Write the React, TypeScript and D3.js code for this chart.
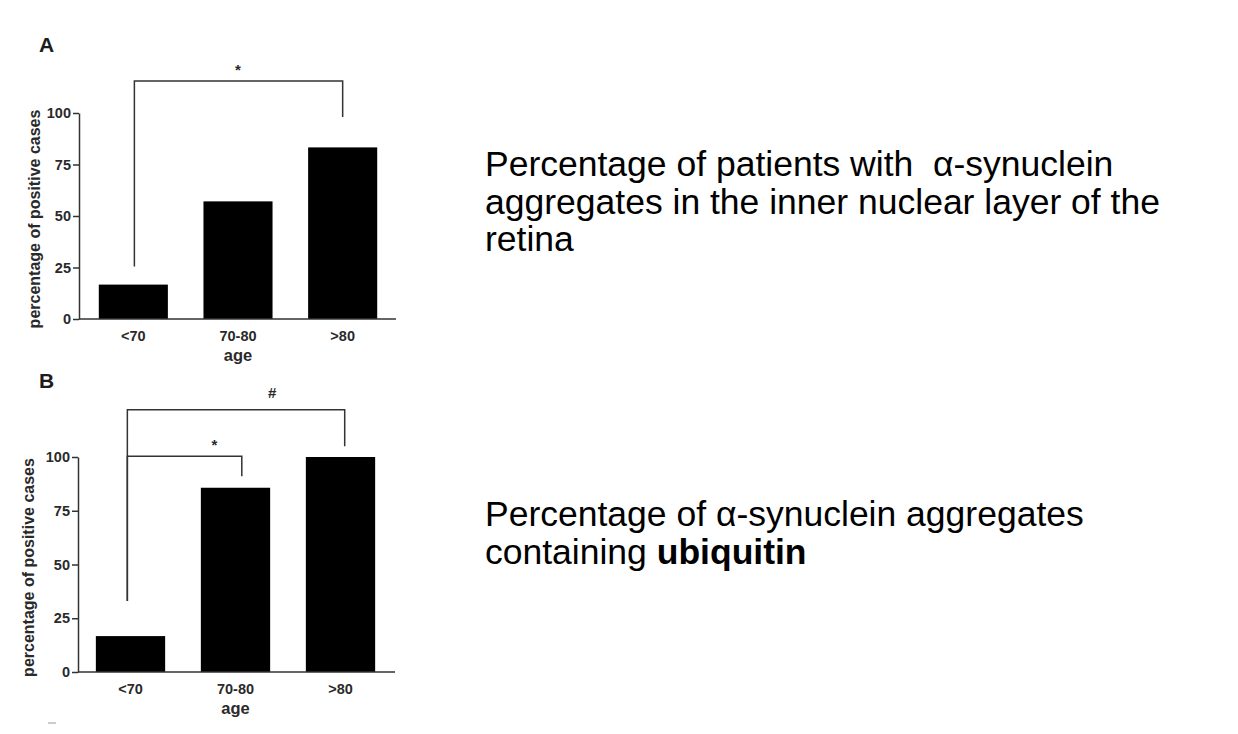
import React, { useEffect, useRef } from 'react';
import * as d3 from 'd3';

// age groups and percentage of positive cases per panel
const ageGroups = ['<70', '70-80', '>80'];
const innerLayerPositive = [16.7, 57.1, 83.3];
const ubiquitinPositive = [16.7, 85.7, 100];
const yTicks = [0, 25, 50, 75, 100];

// significance brackets: ends and label in category-index units, heights in %
const bracketsA = [
  { from: 0.01, to: 2.0, labelAt: 1.0, top: 115.5, leftEnd: 25.5, rightEnd: 98, label: '*' },
];
const bracketsB = [
  { from: -0.03, to: 2.04, labelAt: 1.35, top: 122, leftEnd: 33, rightEnd: 105, label: '#' },
  { from: -0.03, to: 1.06, labelAt: 0.8, top: 100.3, leftEnd: 33, rightEnd: 91, label: '*' },
];

const captionA = [
  'Percentage of patients with  α-synuclein',
  'aggregates in the inner nuclear layer of the',
  'retina',
];
const captionB = [
  [{ text: 'Percentage of α-synuclein aggregates', bold: false }],
  [
    { text: 'containing ', bold: false },
    { text: 'ubiquitin', bold: true },
  ],
];

const chartFont = 'Arial, "Liberation Sans", Helvetica, sans-serif';
const ink = '#1c1c1c';
const grey = '#2a2a2a';

type Bracket = {
  from: number; to: number; labelAt: number;
  top: number; leftEnd: number; rightEnd: number; label: string;
};

interface PanelConfig {
  letter: string;
  letterX: number;
  letterY: number;
  values: number[];
  brackets: Bracket[];
  axisX: number;
  axisEnd: number;
  xRange: [number, number];
  yRange: [number, number];
  yLabelX: number;
}

const drawPanel = (svg: d3.Selection<SVGSVGElement, unknown, null, undefined>, cfg: PanelConfig) => {
  const g = svg.append('g').attr('font-family', chartFont);

  const x = d3.scaleBand<string>()
    .domain(ageGroups)
    .range(cfg.xRange)
    .paddingInner(0.34)
    .paddingOuter(0.17);

  // category index -> bar centre, for the brackets
  const xi = d3.scaleLinear()
    .domain([0, ageGroups.length - 1])
    .range([
      (x(ageGroups[0]) as number) + x.bandwidth() / 2,
      (x(ageGroups[ageGroups.length - 1]) as number) + x.bandwidth() / 2,
    ]);

  const y = d3.scaleLinear().domain([0, 100]).range(cfg.yRange);

  // panel letter
  g.append('text')
    .attr('x', cfg.letterX)
    .attr('y', cfg.letterY)
    .attr('font-size', 21)
    .attr('font-weight', 'bold')
    .attr('fill', ink)
    .text(cfg.letter);

  // bars
  g.selectAll('rect.bar')
    .data(cfg.values)
    .enter()
    .append('rect')
    .attr('class', 'bar')
    .attr('x', (_, i) => x(ageGroups[i]) as number)
    .attr('y', d => y(d))
    .attr('width', x.bandwidth())
    .attr('height', d => y(0) - y(d))
    .attr('fill', '#000');

  // y axis
  const yAxis = g.append('g')
    .attr('transform', `translate(${cfg.axisX},0)`)
    .call(d3.axisLeft(y).tickValues(yTicks).tickSize(6).tickPadding(2).tickSizeOuter(0));
  yAxis.select('.domain').attr('stroke', '#333').attr('stroke-width', 1.5);
  yAxis.selectAll('.tick line').attr('stroke', '#333').attr('stroke-width', 1.5);
  yAxis.selectAll('.tick text')
    .attr('font-size', 14.5)
    .attr('font-weight', 'bold')
    .attr('font-family', chartFont)
    .attr('fill', grey);

  // x axis baseline
  g.append('line')
    .attr('x1', cfg.axisX)
    .attr('x2', cfg.axisEnd)
    .attr('y1', y(0))
    .attr('y2', y(0))
    .attr('stroke', '#333')
    .attr('stroke-width', 1.5);

  // category labels
  g.selectAll('text.cat')
    .data(ageGroups)
    .enter()
    .append('text')
    .attr('class', 'cat')
    .attr('x', d => (x(d) as number) + x.bandwidth() / 2)
    .attr('y', y(0) + 21.5)
    .attr('text-anchor', 'middle')
    .attr('font-size', 14.5)
    .attr('font-weight', 'bold')
    .attr('fill', grey)
    .text(d => d);

  g.append('text')
    .attr('x', xi(1))
    .attr('y', y(0) + 42)
    .attr('text-anchor', 'middle')
    .attr('font-size', 16.5)
    .attr('font-weight', 'bold')
    .attr('fill', grey)
    .text('age');

  // y axis title
  const yMid = (cfg.yRange[0] + cfg.yRange[1]) / 2;
  g.append('text')
    .attr('transform', `translate(${cfg.yLabelX},${yMid + 3}) rotate(-90)`)
    .attr('text-anchor', 'middle')
    .attr('dominant-baseline', 'central')
    .attr('font-size', 16)
    .attr('font-weight', 'bold')
    .attr('fill', grey)
    .text('percentage of positive cases');

  // significance brackets
  cfg.brackets.forEach(b => {
    const x1 = xi(b.from);
    const x2 = xi(b.to);
    const path = d3.path();
    path.moveTo(x1, y(b.leftEnd));
    path.lineTo(x1, y(b.top));
    path.lineTo(x2, y(b.top));
    path.lineTo(x2, y(b.rightEnd));
    g.append('path')
      .attr('d', path.toString())
      .attr('fill', 'none')
      .attr('stroke', '#333')
      .attr('stroke-width', 1.5);
    g.append('text')
      .attr('x', xi(b.labelAt))
      .attr('y', y(b.top) - (b.label === '#' ? 12 : 6))
      .attr('text-anchor', 'middle')
      .attr('font-size', b.label === '#' ? 15 : 15)
      .attr('font-weight', 'bold')
      .attr('fill', grey)
      .text(b.label);
  });
};

const App: React.FC = () => {
  const svgRef = useRef<SVGSVGElement | null>(null);

  useEffect(() => {
    if (!svgRef.current) return;
    const svg = d3.select(svgRef.current);
    svg.selectAll('*').remove();

    drawPanel(svg, {
      letter: 'A', letterX: 39, letterY: 52,
      values: innerLayerPositive, brackets: bracketsA,
      axisX: 79, axisEnd: 396, xRange: [81, 395], yRange: [319, 113], yLabelX: 34,
    });
    drawPanel(svg, {
      letter: 'B', letterX: 39, letterY: 388,
      values: ubiquitinPositive, brackets: bracketsB,
      axisX: 78, axisEnd: 395, xRange: [78, 393], yRange: [672, 457], yLabelX: 28,
    });

    // small stray mark below panel B
    svg.append('line')
      .attr('x1', 48).attr('x2', 56)
      .attr('y1', 723).attr('y2', 723)
      .attr('stroke', '#bbb').attr('stroke-width', 1.5);

    // captions
    const cap = svg.append('g')
      .attr('font-family', chartFont)
      .attr('font-size', 35.5)
      .attr('fill', '#000');

    captionA.forEach((line, i) => {
      cap.append('text')
        .attr('x', 485)
        .attr('y', 176 + i * 37.5)
        .style('white-space', 'pre')
        .text(line);
    });

    captionB.forEach((parts, i) => {
      const t = cap.append('text')
        .attr('x', 485)
        .attr('y', 526 + i * 38)
        .style('white-space', 'pre');
      parts.forEach(p => {
        t.append('tspan')
          .attr('font-weight', p.bold ? 'bold' : 'normal')
          .text(p.text);
      });
    });
  }, []);

  return (
    <svg
      ref={svgRef}
      width={1238}
      height={734}
      style={{ position: 'absolute', left: 0, top: 0, background: '#fff' }}
    />
  );
};

export default App;
